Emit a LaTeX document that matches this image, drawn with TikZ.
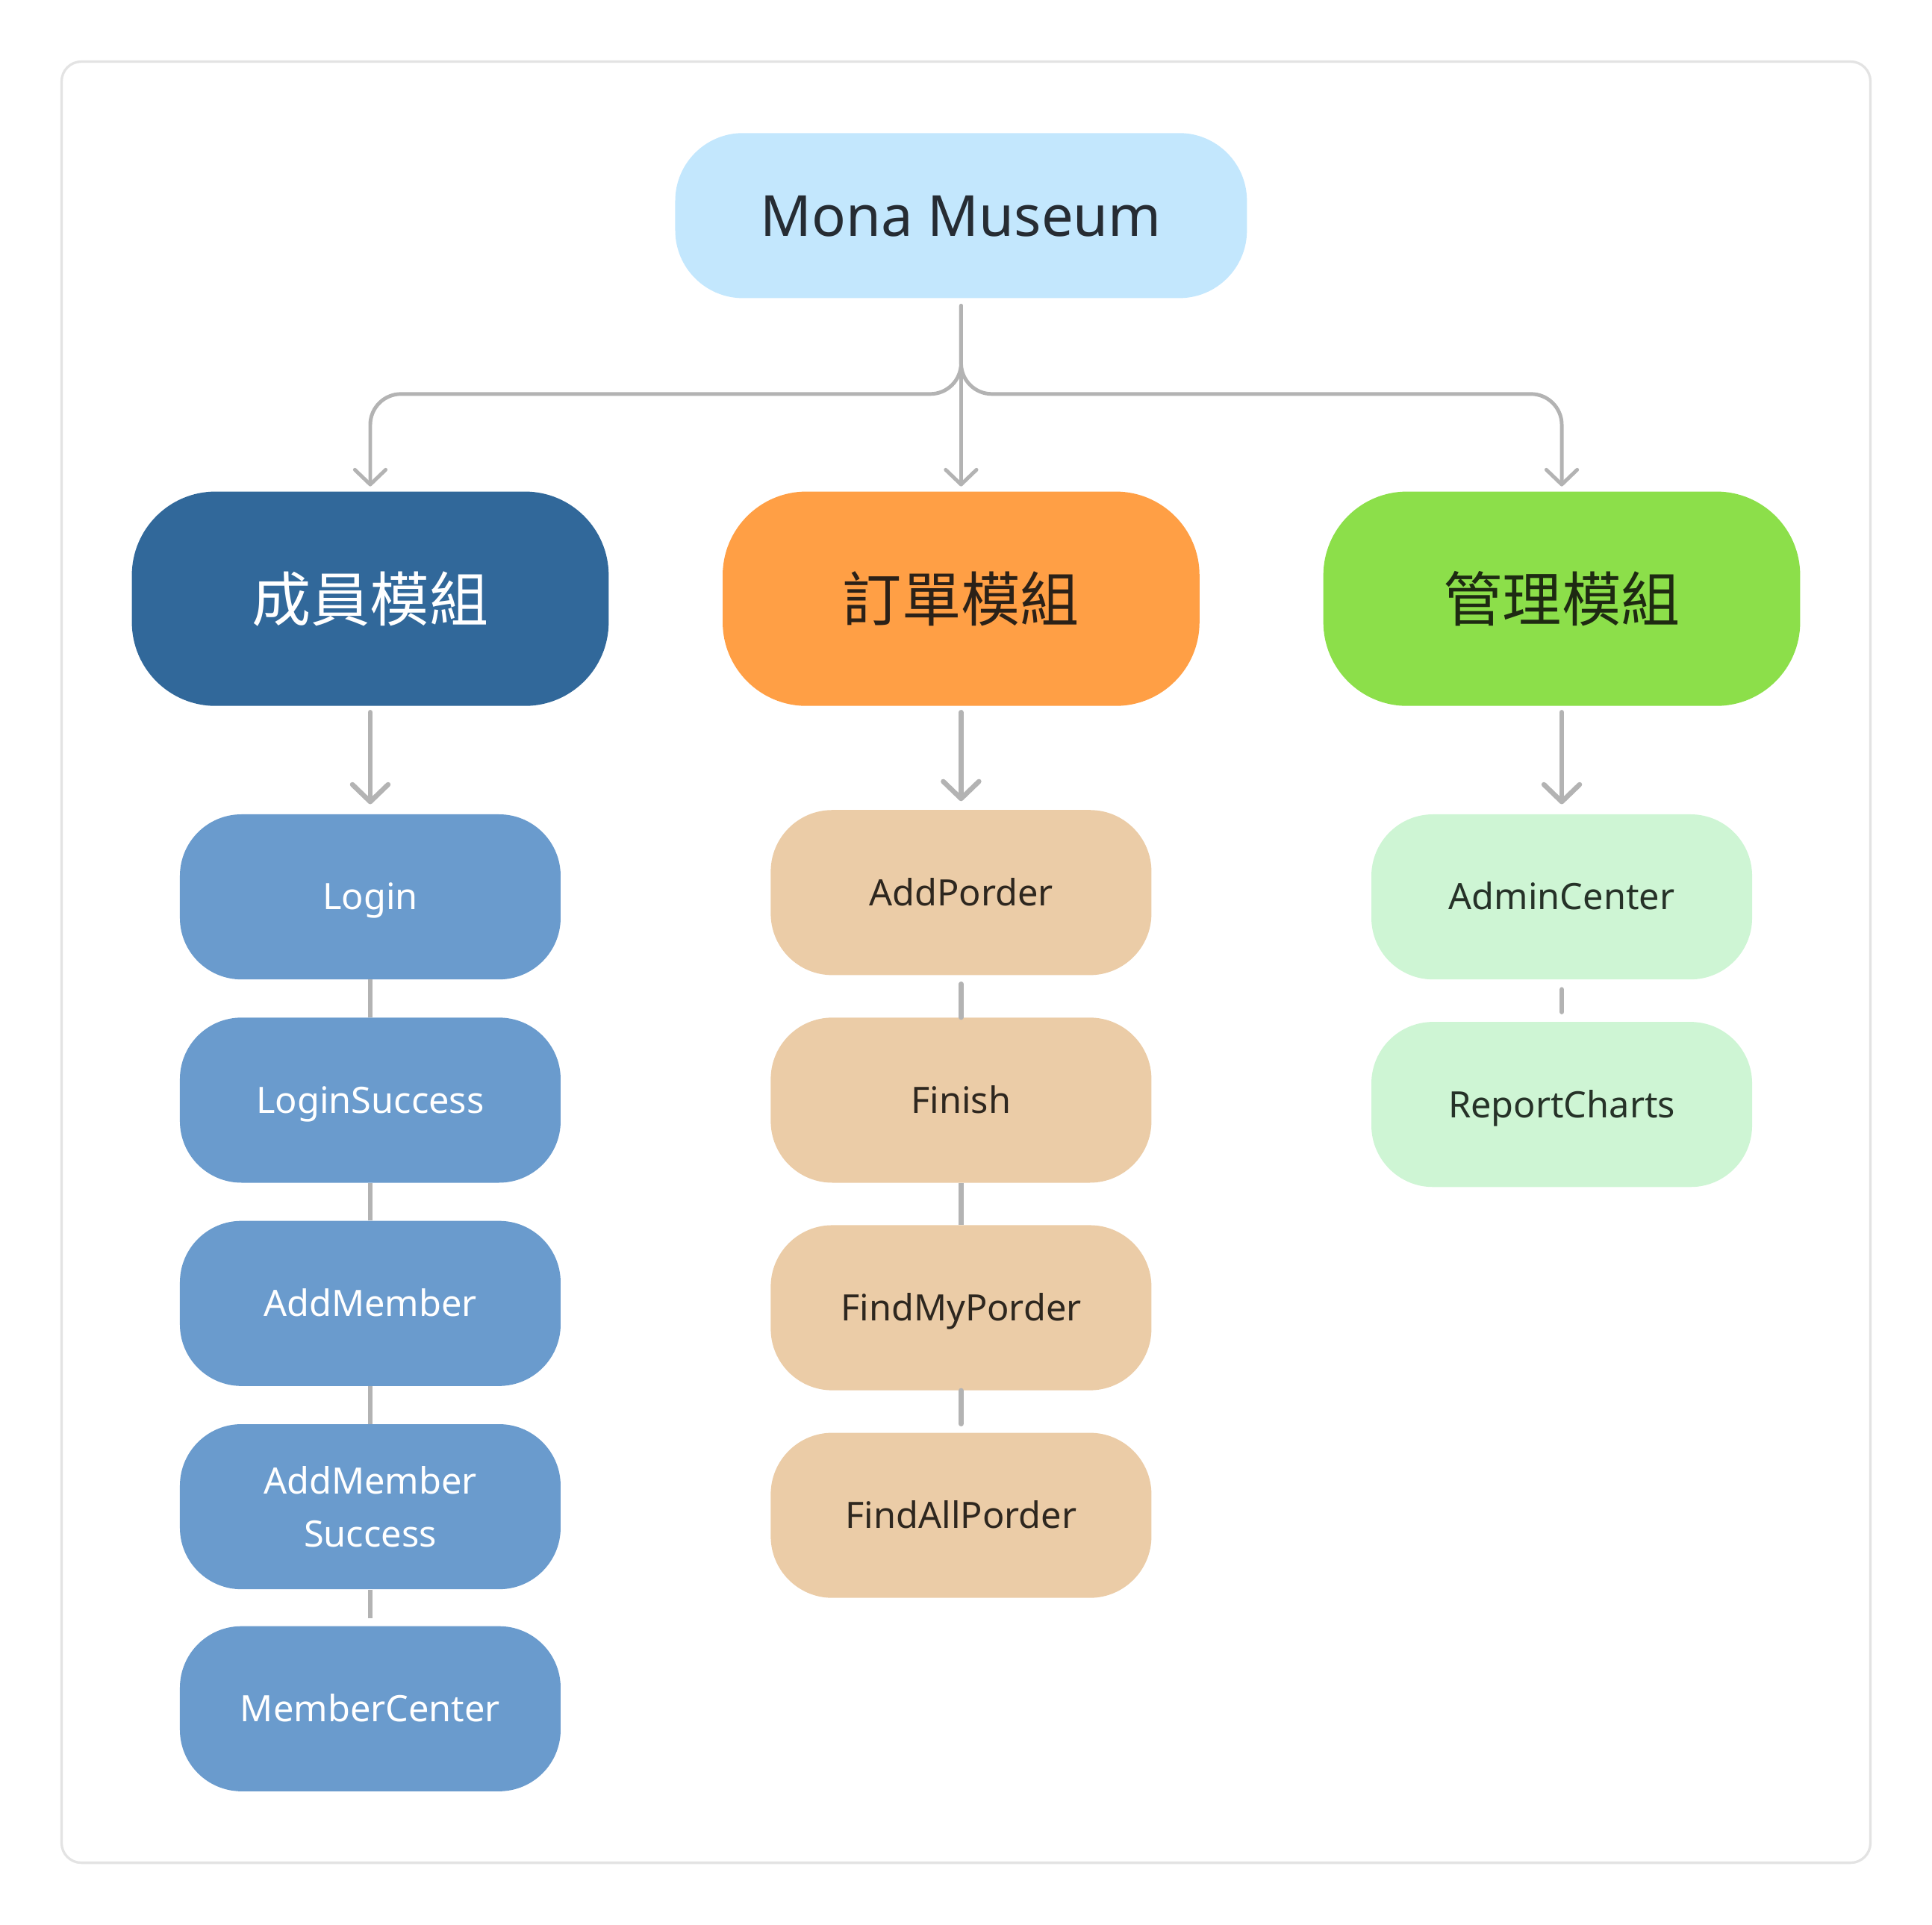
\documentclass[tikz,border=0pt]{standalone}
\usepackage{fontspec}
\setmainfont{Noto Sans}
\newfontfamily\cjk{Noto Sans CJK TC}
\usetikzlibrary{arrows.meta}
\definecolor{monafill}{HTML}{C3E7FD}
\definecolor{monatext}{HTML}{262C33}
\definecolor{memfill}{HTML}{31689A}
\definecolor{ordfill}{HTML}{FF9F45}
\definecolor{ordtext}{HTML}{2B2118}
\definecolor{admfill}{HTML}{8CDF4A}
\definecolor{admtext}{HTML}{1E2A12}
\definecolor{memchild}{HTML}{6A9BCD}
\definecolor{ordchild}{HTML}{EBCCA7}
\definecolor{ordchildtext}{HTML}{2E271F}
\definecolor{admchild}{HTML}{CEF5D4}
\definecolor{admchildtext}{HTML}{263228}
\definecolor{linegray}{HTML}{B3B3B3}
\definecolor{framegray}{HTML}{E3E3E3}
\tikzset{
  rootbox/.style={fill=monafill, text=monatext, rounded corners=55pt, minimum width=464pt, minimum height=134pt, inner sep=0pt, text height=33pt, text depth=0pt, font=\fontsize{46}{50}\selectfont},
  modbox/.style={rounded corners=68pt, minimum width=387pt, minimum height=174pt, inner sep=0pt, font=\cjk\fontsize{48}{52}\selectfont},
  childbox/.style={rounded corners=50pt, minimum width=309pt, minimum height=134pt, inner sep=0pt, align=center, text height=21pt, text depth=0pt, font=\fontsize{29.5}{43}\selectfont},
  toparrow/.style={draw=linegray, line width=3pt, line cap=round, -{Straight Barb[length=12pt,width=25pt,round]}},
  downarrow/.style={draw=linegray, line width=4pt, line cap=round, -{Straight Barb[length=14pt,width=29pt,round]}},
  link/.style={draw=linegray, line width=4pt}
}
\begin{document}
\begin{tikzpicture}[x=1pt,y=-1pt]
\useasboundingbox (0,0) rectangle (1568,1562);
\draw[framegray, line width=2pt, rounded corners=16pt] (50,50) rectangle (1518,1512);

\node[rootbox] (mona) at (780,175) {Mona Museum};

\node[modbox, fill=memfill, text=white] (member) at (300.5,486) {成員模組};
\node[modbox, fill=ordfill, text=ordtext] (order) at (780,486) {訂單模組};
\node[modbox, fill=admfill, text=admtext] (admin) at (1267.5,486) {管理模組};

\node[childbox, fill=memchild, text=white] (login) at (300.5,728) {Login};
\node[childbox, fill=memchild, text=white] (loginsucc) at (300.5,893) {LoginSuccess};
\node[childbox, fill=memchild, text=white] (addmem) at (300.5,1058) {AddMember};
\node[childbox, fill=memchild, text=white, text height={}, text depth={}] (addmemsucc) at (300.5,1223) {AddMember\\Success};
\node[childbox, fill=memchild, text=white] (memcenter) at (300.5,1387) {MemberCenter};

\node[childbox, fill=ordchild, text=ordchildtext] (addporder) at (780,724.5) {AddPorder};
\node[childbox, fill=ordchild, text=ordchildtext] (finish) at (780,893) {Finish};
\node[childbox, fill=ordchild, text=ordchildtext] (findmy) at (780,1061.5) {FindMyPorder};
\node[childbox, fill=ordchild, text=ordchildtext] (findall) at (780,1230) {FindAllPorder};

\node[childbox, fill=admchild, text=admchildtext] (admincenter) at (1267.5,728) {AdminCenter};
\node[childbox, fill=admchild, text=admchildtext] (report) at (1267.5,896.5) {ReportCharts};

% root to modules
\draw[toparrow, shorten <=6pt, shorten >=4pt] (mona.south) -- (order.north);
\draw[toparrow, rounded corners=25pt, shorten >=4pt] ([yshift=-6pt]mona.south) |- ([yshift=79pt]member.north) -- (member.north);
\draw[toparrow, rounded corners=25pt, shorten >=4pt] ([yshift=-6pt]mona.south) |- ([yshift=79pt]admin.north) -- (admin.north);

% modules to first children
\draw[downarrow, shorten <=5pt, shorten >=8pt] (member.south) -- (login.north);
\draw[downarrow, shorten <=5pt, shorten >=7pt] (order.south) -- (addporder.north);
\draw[downarrow, shorten <=5pt, shorten >=8pt] (admin.south) -- (admincenter.north);

% chains
\draw[link] (login.south) -- (loginsucc.north);
\draw[link] (loginsucc.south) -- (addmem.north);
\draw[link] (addmem.south) -- (addmemsucc.north);
\draw[link, shorten >=6pt] (addmemsucc.south) -- (memcenter.north);

\draw[link, line cap=round, shorten <=7pt] (addporder.south) -- (finish.north);
\draw[link] (finish.south) -- (findmy.north);
\draw[link, line cap=round, shorten >=7pt] (findmy.south) -- (findall.north);

\draw[link, line cap=round, shorten <=8pt, shorten >=8pt] (admincenter.south) -- (report.north);
\end{tikzpicture}
\end{document}
